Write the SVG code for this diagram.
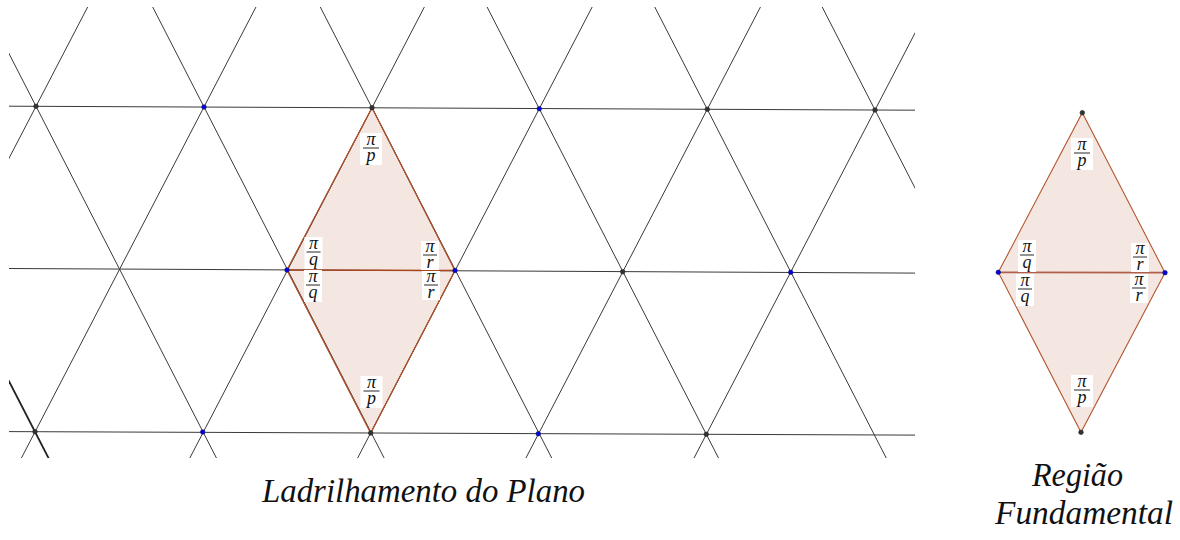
<svg xmlns="http://www.w3.org/2000/svg" width="1180" height="540" viewBox="0 0 1180 540">
<style>
.ln{stroke:#3a3a3a;stroke-width:1;fill:none}
.thick{stroke:#222;stroke-width:1.8;fill:none}
.rh{fill:#f4e7e2;stroke:#b4552f;stroke-width:1.1}
.dg{stroke:#a8451f;stroke-width:1.6}
.dk{fill:#333;stroke:#222;stroke-width:0.6}
.bl{fill:#0000f0;stroke:#141450;stroke-width:0.6}
.box{fill:#fff}
.fr{font-family:"Liberation Serif","DejaVu Serif",serif;font-style:italic;font-size:18px;fill:#111;text-anchor:middle}
.bar{stroke:#111;stroke-width:0.9}
.cap{font-family:"Liberation Serif","DejaVu Serif",serif;font-style:italic;font-size:34px;fill:#111}
</style>
<defs>
<clipPath id="clip"><rect x="9" y="7" width="906" height="451"/></clipPath>
<g id="fp"><rect class="box" x="-11" y="-15" width="22" height="32"/><text class="fr" x="0" y="-3">π</text><line class="bar" x1="-8" y1="0" x2="8" y2="0"/><text class="fr" x="0" y="12.5">p</text></g>
<g id="fq"><rect class="box" x="-9" y="-15" width="18" height="32"/><text class="fr" x="0" y="-3">π</text><line class="bar" x1="-7" y1="0" x2="7" y2="0"/><text class="fr" x="0" y="12.5">q</text></g>
<g id="fr"><rect class="box" x="-9" y="-14" width="18" height="29"/><text class="fr" x="0" y="-3">π</text><line class="bar" x1="-7" y1="0" x2="7" y2="0"/><text class="fr" x="0" y="12.5">r</text></g>
</defs>

<g id="tiling-fill">
<polygon class="rh" points="372,107.7 455,270.5 370.7,433 287,270"/>
</g>

<g id="connectors" clip-path="url(#clip)">
<line class="ln" x1="9" y1="106.2" x2="915" y2="110.2"/>
<line class="ln" x1="9" y1="268.5" x2="915" y2="273.1"/>
<line class="ln" x1="9" y1="431.6" x2="915" y2="435.1"/>
<line class="ln" x1="91.3" y1="0" x2="-150.5" y2="465"/>
<line class="ln" x1="259.6" y1="0" x2="17.8" y2="465"/>
<line class="ln" x1="428" y1="0" x2="186.2" y2="465"/>
<line class="ln" x1="595.8" y1="0" x2="354" y2="465"/>
<line class="ln" x1="764.1" y1="0" x2="522.3" y2="465"/>
<line class="ln" x1="932.2" y1="0" x2="690.4" y2="465"/>
<line class="thick" x1="-187.3" y1="0" x2="52.1" y2="465"/>
<line class="ln" x1="-18.5" y1="0" x2="220" y2="465"/>
<line class="ln" x1="149.1" y1="0" x2="387.7" y2="465"/>
<line class="ln" x1="316.7" y1="0" x2="555.3" y2="465"/>
<line class="ln" x1="483.5" y1="0" x2="722.1" y2="465"/>
<line class="ln" x1="651.2" y1="0" x2="889.8" y2="465"/>
<line class="ln" x1="818.6" y1="0" x2="1057.1" y2="465"/>
</g>

<g id="rhombus-edges">
<polygon points="372,107.7 455,270.5 370.7,433 287,270" fill="none" stroke="#b4552f" stroke-width="1.1"/>
<line class="dg" x1="287" y1="270" x2="455" y2="270.5"/>
</g>

<g id="vertices">
<circle class="dk" cx="36" cy="106.3" r="2.3"/>
<circle class="bl" cx="204" cy="107" r="2.3"/>
<circle class="dk" cx="372" cy="107.7" r="2.3"/>
<circle class="bl" cx="539.3" cy="108.7" r="2.3"/>
<circle class="dk" cx="707.3" cy="109.3" r="2.3"/>
<circle class="dk" cx="875" cy="110" r="2.3"/>
<circle class="bl" cx="287" cy="270" r="2.3"/>
<circle class="bl" cx="455" cy="270.5" r="2.3"/>
<circle class="dk" cx="622.7" cy="271.7" r="2.3"/>
<circle class="bl" cx="790.7" cy="272.3" r="2.3"/>
<circle class="dk" cx="35" cy="431.7" r="2.3"/>
<circle class="bl" cx="202.7" cy="432" r="2.3"/>
<circle class="dk" cx="370.7" cy="433" r="2.3"/>
<circle class="bl" cx="538.3" cy="433.7" r="2.3"/>
<circle class="dk" cx="706.3" cy="434.3" r="2.3"/>
</g>

<g id="tiling-labels">
<use href="#fp" x="371" y="148"/>
<use href="#fq" x="313.5" y="252"/>
<use href="#fq" x="313" y="285"/>
<use href="#fr" x="430" y="255"/>
<use href="#fr" x="431" y="285"/>
<use href="#fp" x="371.5" y="391"/>
</g>

<g id="fundamental-region">
<polygon class="rh" points="1082.3,112.7 1165,272.7 1081,432.3 998.3,272.3"/>
<line x1="998.3" y1="272.3" x2="1165" y2="272.7" stroke="#b0604a" stroke-width="1.8"/>
<circle class="dk" cx="1082.3" cy="112.7" r="2.3"/>
<circle class="dk" cx="1081" cy="432.3" r="2.3"/>
<circle class="bl" cx="998.3" cy="272.3" r="2.3"/>
<circle class="bl" cx="1165" cy="272.7" r="2.3"/>
<use href="#fp" x="1082" y="153"/>
<use href="#fq" x="1027" y="255"/>
<use href="#fq" x="1025" y="289"/>
<use href="#fr" x="1140" y="257"/>
<use href="#fr" x="1139" y="288"/>
<use href="#fp" x="1082" y="390"/>
</g>

<g id="captions">
<text class="cap" x="262" y="502" textLength="323" lengthAdjust="spacingAndGlyphs">Ladrilhamento do Plano</text>
<text class="cap" x="1032" y="486" textLength="91" lengthAdjust="spacingAndGlyphs">Região</text>
<text class="cap" x="995" y="524" textLength="178" lengthAdjust="spacingAndGlyphs">Fundamental</text>
</g>
</svg>
